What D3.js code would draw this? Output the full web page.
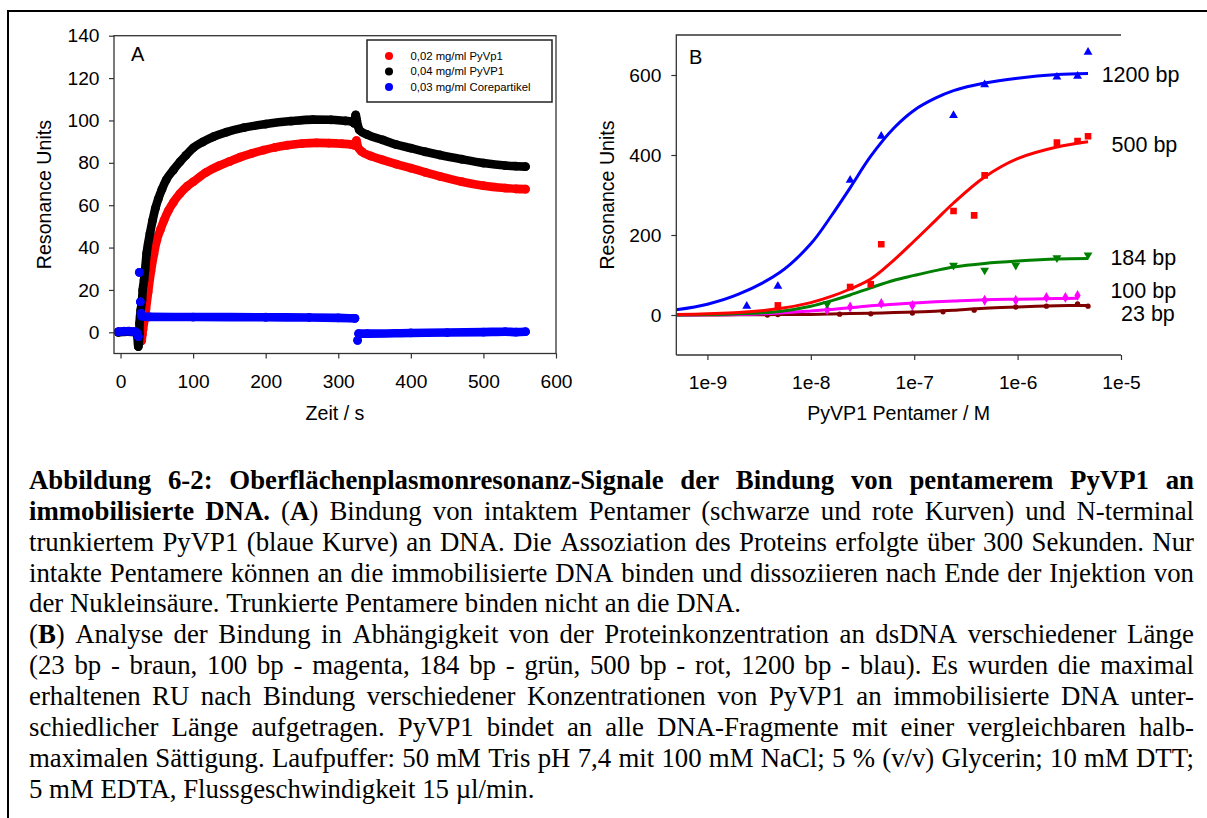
<!DOCTYPE html>
<html>
<head>
<meta charset="utf-8">
<script src="https://cdn.jsdelivr.net/npm/d3@7"></script>
<style>
body { margin: 0; background: #fff; }
svg { display: block; font-family: "Liberation Sans", Arial, sans-serif; }
.caption { font-family: "Liberation Serif", "Times New Roman", serif; }
</style>
</head>
<body>
<svg id="chart" width="1207" height="818"></svg>
<script>
// ---------- panel A : sensorgrams (time in s, RU) ----------
var timeRed = [-3, 10, 20, 24, 27, 29, 30, 31, 33, 35, 38, 42, 46, 50, 55, 60, 66, 73, 82, 92, 100, 118, 135, 150, 165, 181, 197, 213, 230, 250, 270, 287, 305, 318, 322, 325, 327, 332, 345, 361, 380, 400, 420, 440, 470, 500, 530, 545, 558];
var ruRed   = [0.2, 0.5, 0.3, 0, -3, -4, -1, 1.5, 6, 11, 19, 29, 37, 43.5, 48.5, 53, 57.5, 61.5, 65.5, 69, 71, 75.5, 78.5, 80.6, 82.7, 84.5, 86, 87.3, 88.3, 89.1, 89.4, 89.3, 89, 88.6, 88.3, 90.5, 87.5, 85.4, 83.2, 81.4, 79.4, 77.5, 75.5, 73.6, 71.1, 69.2, 68.1, 67.7, 67.6];

var timeBlack = [-3, 10, 20, 23, 24.5, 25.9, 26.2, 27.8, 29.6, 30.6, 32.4, 33.8, 36, 40.6, 44.3, 48, 52, 57, 63, 72.7, 82, 90, 100, 113, 128, 146, 170, 200, 235, 265, 290, 310, 318, 322, 324, 325.5, 327, 329, 340, 361, 380, 400, 420, 440, 470, 500, 530, 545, 558];
var ruBlack   = [0, 0.3, 0, -1.5, -6.8, -1.3, 4.2, 10.5, 15.2, 20, 24.7, 29.4, 37.3, 46.7, 53, 58.5, 63, 67.5, 72, 76.6, 80.5, 83.5, 87, 89.8, 92.3, 94.5, 96.6, 98.3, 99.7, 100.4, 100.3, 99.8, 99.6, 98.6, 102.6, 100, 97.5, 95.5, 93.3, 90.8, 88.6, 86.9, 85.2, 83.7, 81.7, 79.9, 78.7, 78.4, 78.2];

// null splits the blue trace into separate pieces
var timeBlue = [-3, 5, 12, 20, 23, 24.5, null, 25.9, null, 27.3, null, 28.2, 29, 40, 100, 200, 260, 300, 323, null, 326.6, null, 328, 340, 400, 450, 500, 530, 545, 558];
var ruBlue   = [0.3, 0.5, 0.5, 0.3, -0.5, -2, null, 28.3, null, 14.4, null, 9, 7.6, 7.3, 7.2, 7.1, 7.0, 6.8, 6.6, null, -3.8, null, -0.6, -0.6, -0.3, -0.1, 0.1, 0.3, 0.1, 0.3];

var legendLabels = ["0,02 mg/ml PyVp1", "0,04 mg/ml PyVP1", "0,03 mg/ml Corepartikel"];
var xTicksA = [0, 100, 200, 300, 400, 500, 600];
var yTicksA = [0, 20, 40, 60, 80, 100, 120, 140];

// ---------- panel B : binding vs. concentration ----------
var conc1200 = [2.4e-9, 4.8e-9, 2.4e-8, 4.8e-8, 2.4e-7, 4.8e-7, 2.4e-6, 3.8e-6, 4.8e-6];
var ru1200   = [22, 72, 337, 447, 499, 576, 595, 597, 657];
var conc500  = [4.8e-9, 2.4e-8, 3.8e-8, 4.8e-8, 2.4e-7, 3.8e-7, 4.8e-7, 2.4e-6, 3.8e-6, 4.8e-6];
var ru500    = [24, 70, 77, 177, 260, 249, 349, 431, 435, 447];
var conc184  = [1.44e-8, 2.4e-7, 4.8e-7, 9.6e-7, 2.4e-6, 4.8e-6];
var ru184    = [28, 124, 112, 124, 143, 150];
var conc100  = [1.44e-8, 2.4e-8, 4.8e-8, 9.6e-8, 4.8e-7, 9.6e-7, 1.9e-6, 2.9e-6, 3.8e-6];
var ru100    = [13, 20, 29, 24, 37, 37, 44, 44, 49];
var conc23   = [3.8e-9, 4.8e-9, 1.9e-8, 3.8e-8, 9.6e-8, 1.9e-7, 3.8e-7, 9.6e-7, 1.9e-6, 3.8e-6, 4.8e-6];
var ru23     = [0, 1, 2, 3, 5, 8, 12, 20, 22, 28, 22];

// fitted curves
var fitConc    = [5e-10, 1e-9, 2e-9, 5e-9, 1e-8, 1.6e-8, 2.4e-8, 3.8e-8, 6.4e-8, 1e-7, 1.6e-7, 2.4e-7, 4.8e-7, 1e-6, 2.4e-6, 4.8e-6];
var fitConc100 = [5e-10, 1e-9, 2e-9, 5e-9, 1e-8, 1.6e-8, 2.4e-8, 3.8e-8, 6.4e-8, 1e-7, 1.6e-7, 2.4e-7, 4.8e-7, 1e-6, 2.4e-6, 3.8e-6];
var fit1200 = [13, 27, 52, 106, 178, 250, 318, 397, 468, 512, 542, 561, 580, 592, 601, 604];
var fit500  = [1, 3, 6, 16, 31, 47, 65, 90, 138, 185, 236, 280, 345, 391, 420, 433];
var fit184  = [0, 1, 3, 9, 22, 36, 50, 68, 87, 99, 111, 120, 129, 135, 140, 141];
var fit100  = [0, 0.5, 1.5, 5, 10, 14, 18, 23, 27, 30, 33, 35, 38, 39.5, 41, 42];
var fit23   = [0, 0.2, 0.5, 1, 1.5, 2.5, 3.5, 4.5, 6, 7.5, 9.5, 12, 17, 20, 23, 24];

var bpLabels = ["1200 bp", "500 bp", "184 bp", "100 bp", "23 bp"];
var bpLabelConc = [6.5e-6, 8.1e-6, 7.9e-6, 7.9e-6, 10.0e-6];
var bpLabelRu   = [603, 428, 145, 63, 5];
var xTicksB = [1e-9, 1e-8, 1e-7, 1e-6, 1e-5];
var yTicksB = [0, 200, 400, 600];

// ---------- caption ----------
var captionLines = [
  "**Abbildung 6-2: Oberflächenplasmonresonanz-Signale der Bindung von pentamerem PyVP1 an**",
  "**immobilisierte DNA.** (**A**) Bindung von intaktem Pentamer (schwarze und rote Kurven) und N-terminal",
  "trunkiertem PyVP1 (blaue Kurve) an DNA. Die Assoziation des Proteins erfolgte über 300 Sekunden. Nur",
  "intakte Pentamere können an die immobilisierte DNA binden und dissoziieren nach Ende der Injektion von",
  "der Nukleinsäure. Trunkierte Pentamere binden nicht an die DNA.",
  "(**B**) Analyse der Bindung in Abhängigkeit von der Proteinkonzentration an dsDNA verschiedener Länge",
  "(23 bp - braun, 100 bp - magenta, 184 bp - grün, 500 bp - rot, 1200 bp - blau). Es wurden die maximal",
  "erhaltenen RU nach Bindung verschiedener Konzentrationen von PyVP1 an immobilisierte DNA unter-",
  "schiedlicher Länge aufgetragen. PyVP1 bindet an alle DNA-Fragmente mit einer vergleichbaren halb-",
  "maximalen Sättigung. Laufpuffer: 50 mM Tris pH 7,4 mit 100 mM NaCl; 5 % (v/v) Glycerin; 10 mM DTT;",
  "5 mM EDTA, Flussgeschwindigkeit 15 µl/min."
];
var captionJustify = [true, true, true, true, false, true, true, true, true, true, false];

var svg = d3.select("#chart");

// outer frame of the figure
svg.append("rect")
  .attr("x", 8).attr("y", 11).attr("width", 1260).attr("height", 900)
  .attr("fill", "none").attr("stroke", "#000").attr("stroke-width", 2);

function styleAxis(g, size) {
  g.selectAll("text").attr("font-size", size).attr("fill", "#000")
    .attr("font-family", "'Liberation Sans', Arial, sans-serif");
  g.selectAll("line").attr("stroke", "#333").attr("stroke-width", 1.2);
  g.select(".domain").remove();
}

// ================= panel A =================
var xA = d3.scaleLinear().domain([-9, 600]).range([114, 556]);
var yA = d3.scaleLinear().domain([-10, 140]).range([353.5, 35.7]);
var gA = svg.append("g");

gA.append("g").attr("transform", "translate(0," + yA.range()[0] + ")")
  .call(d3.axisBottom(xA).tickValues(xTicksA).tickSize(5).tickPadding(15.5))
  .call(styleAxis, 19.2);
gA.append("g").attr("transform", "translate(" + xA.range()[0] + ",0)")
  .call(d3.axisLeft(yA).tickValues(yTicksA).tickSize(5).tickPadding(9.5))
  .call(styleAxis, 19.2);

var seriesA = [
  { t: timeRed, v: ruRed, color: "#ff0000" },
  { t: timeBlack, v: ruBlack, color: "#000000" },
  { t: timeBlue, v: ruBlue, color: "#0000ff" }
];
var lineA = d3.line()
  .defined(function(d) { return d[1] != null; })
  .x(function(d) { return xA(d[0]); })
  .y(function(d) { return yA(d[1]); })
  .curve(d3.curveMonotoneX);

seriesA.forEach(function(s) {
  var pts = s.t.map(function(t, i) { return [t, s.v[i]]; });
  gA.append("path").datum(pts)
    .attr("d", lineA)
    .attr("fill", "none").attr("stroke", s.color)
    .attr("stroke-width", 8.6).attr("stroke-linecap", "round").attr("stroke-linejoin", "round");
  gA.append("g").selectAll("circle")
    .data(pts.filter(function(d) { return d[1] != null; }))
    .join("circle")
    .attr("cx", function(d) { return xA(d[0]); })
    .attr("cy", function(d) { return yA(d[1]); })
    .attr("r", 4.4).attr("fill", s.color);
});

// frame box
gA.append("rect")
  .attr("x", xA.range()[0]).attr("y", yA.range()[1])
  .attr("width", xA.range()[1] - xA.range()[0]).attr("height", yA.range()[0] - yA.range()[1])
  .attr("fill", "none").attr("stroke", "#333").attr("stroke-width", 1.3);

gA.append("text").attr("x", 131).attr("y", 61).attr("font-size", 20).text("A");

// legend
var leg = gA.append("g");
leg.append("rect").attr("x", 367).attr("y", 40).attr("width", 185).attr("height", 62)
  .attr("fill", "#fff").attr("stroke", "#222").attr("stroke-width", 1.5);
legendLabels.forEach(function(lab, i) {
  var yy = 56 + i * 15.5;
  leg.append("circle").attr("cx", 389).attr("cy", yy).attr("r", 4).attr("fill", seriesA[i].color);
  leg.append("text").attr("x", 410.5).attr("y", yy).attr("dy", "0.35em")
    .attr("font-size", 11.3).text(lab);
});

gA.append("text")
  .attr("transform", "translate(51," + d3.mean(yA.range()) + ") rotate(-90)")
  .attr("text-anchor", "middle").attr("font-size", 19.6).text("Resonance Units");
gA.append("text")
  .attr("x", d3.mean(xA.range())).attr("y", 419.5)
  .attr("text-anchor", "middle").attr("font-size", 19.6).text("Zeit / s");

// ================= panel B =================
var xB = d3.scaleLog().domain([5e-10, 1e-5]).range([676.3, 1121]);
var yB = d3.scaleLinear().domain([-100, 700]).range([355, 35]);
var gB = svg.append("g");

gB.append("g").attr("transform", "translate(0," + yB.range()[0] + ")")
  .call(d3.axisBottom(xB).tickValues(xTicksB).tickSize(5).tickPadding(15.5)
    .tickFormat(function(d) { return "1e" + Math.round(Math.log10(d)); }))
  .call(styleAxis, 19.2);
gB.append("g").attr("transform", "translate(" + xB.range()[0] + ",0)")
  .call(d3.axisLeft(yB).tickValues(yTicksB).tickSize(5).tickPadding(10))
  .call(styleAxis, 19.2);

svg.append("clipPath").attr("id", "clipB").append("rect")
  .attr("x", xB.range()[0]).attr("y", yB.range()[1])
  .attr("width", xB.range()[1] - xB.range()[0]).attr("height", yB.range()[0] - yB.range()[1]);

var seriesB = [
  { c: conc23, v: ru23, fc: fitConc, fv: fit23, color: "#800000", sym: d3.symbolCircle, size: 22, rot: 0 },
  { c: conc100, v: ru100, fc: fitConc100, fv: fit100, color: "#ff00ff", sym: d3.symbolDiamond, size: 34, rot: 0 },
  { c: conc184, v: ru184, fc: fitConc, fv: fit184, color: "#008000", sym: d3.symbolTriangle, size: 34, rot: 180 },
  { c: conc500, v: ru500, fc: fitConc, fv: fit500, color: "#ff0000", sym: d3.symbolSquare, size: 44, rot: 0 },
  { c: conc1200, v: ru1200, fc: fitConc, fv: fit1200, color: "#0000ff", sym: d3.symbolTriangle, size: 34, rot: 0 }
];
var lineB = d3.line()
  .x(function(d) { return xB(d[0]); })
  .y(function(d) { return yB(d[1]); })
  .curve(d3.curveCatmullRom.alpha(0.5));

var plotB = gB.append("g").attr("clip-path", "url(#clipB)");
seriesB.forEach(function(s) {
  plotB.append("path")
    .datum(s.fc.map(function(c, i) { return [c, s.fv[i]]; }))
    .attr("d", lineB)
    .attr("fill", "none").attr("stroke", s.color).attr("stroke-width", 3);
  plotB.append("g").selectAll("path")
    .data(s.c.map(function(c, i) { return [c, s.v[i]]; }))
    .join("path")
    .attr("d", d3.symbol().type(s.sym).size(s.size))
    .attr("transform", function(d) {
      return "translate(" + xB(d[0]) + "," + yB(d[1]) + ") rotate(" + s.rot + ")";
    })
    .attr("fill", s.color);
});

// frame: left and top lines (no right side)
gB.append("path")
  .attr("d", "M" + xB.range()[0] + "," + yB.range()[0] + "V" + yB.range()[1] + "H" + xB.range()[1])
  .attr("fill", "none").attr("stroke", "#333").attr("stroke-width", 1.3);
gB.append("line")
  .attr("x1", xB.range()[0]).attr("x2", xB.range()[1])
  .attr("y1", yB.range()[0]).attr("y2", yB.range()[0])
  .attr("stroke", "#333").attr("stroke-width", 1.3);

gB.append("text").attr("x", 689).attr("y", 64.3).attr("font-size", 20).text("B");

bpLabels.forEach(function(lab, i) {
  gB.append("text")
    .attr("x", xB(bpLabelConc[i])).attr("y", yB(bpLabelRu[i])).attr("dy", "0.36em")
    .attr("font-size", 21.5).text(lab);
});

gB.append("text")
  .attr("transform", "translate(614," + d3.mean(yB.range()) + ") rotate(-90)")
  .attr("text-anchor", "middle").attr("font-size", 19.6).text("Resonance Units");
gB.append("text")
  .attr("x", d3.mean(xB.range())).attr("y", 419.5)
  .attr("text-anchor", "middle").attr("font-size", 19.6).text("PyVP1 Pentamer / M");

// ================= caption (justified by hand) =================
var capLeft = 29, capRight = 1194, capSize = 26.8, capTop = 489, capStep = 30.85;
var cap = svg.append("g").attr("class", "caption").attr("font-size", capSize).attr("fill", "#000");

function parseWords(str) {
  var words = [[]];
  str.split("**").forEach(function(part, i) {
    var bold = i % 2 === 1;
    part.split(" ").forEach(function(piece, j) {
      if (j > 0) words.push([]);
      if (piece) words[words.length - 1].push({ t: piece, b: bold });
    });
  });
  return words.filter(function(w) { return w.length; });
}

captionLines.forEach(function(line, i) {
  var y = capTop + i * capStep;
  var nodes = parseWords(line).map(function(w) {
    var t = cap.append("text").attr("y", y);
    w.forEach(function(seg) {
      t.append("tspan").attr("font-weight", seg.b ? "bold" : "normal").text(seg.t);
    });
    return t;
  });
  var widths = nodes.map(function(n) { return n.node().getComputedTextLength(); });
  var gap = captionJustify[i]
    ? (capRight - capLeft - d3.sum(widths)) / (nodes.length - 1)
    : capSize * 0.25;
  var x = capLeft;
  nodes.forEach(function(n, k) {
    n.attr("x", x);
    x += widths[k] + gap;
  });
});
</script>
</body>
</html>
